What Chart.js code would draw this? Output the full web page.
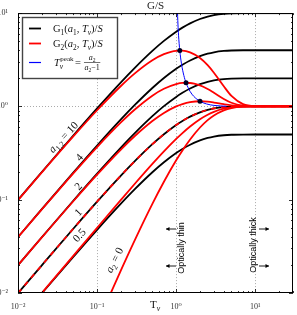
<!DOCTYPE html>
<html><head><meta charset="utf-8">
<script src="https://cdn.jsdelivr.net/npm/chart.js@4.4.1/dist/chart.umd.min.js"></script>
<style>html,body{margin:0;padding:0;background:#fff;}#wrap{width:297px;height:315px;}</style>
</head><body><div id="wrap"><canvas id="c" width="297" height="315"></canvas></div>
<script>
// ---- data ----
const T = [0.01,0.02,0.05,0.1,0.2,0.3,0.5,0.7,1,1.2,1.5,2,2.5,3,4,5,7,10,15,20,30];
const g1_10 = [0.0995,0.198,0.4877,0.9516,1.8127,2.5918,3.9347,5.0341,6.3212,6.9881,7.7687,8.6466,9.1792,9.5021,9.8168,9.9326,9.9909,9.9995,10,10,10];
const g1_4 = [0.0398,0.0792,0.1951,0.3807,0.7251,1.0367,1.5739,2.0137,2.5285,2.7952,3.1075,3.4587,3.6717,3.8009,3.9267,3.9730,3.9964,3.9998,4,4,4];
const g1_2 = [0.0199,0.0396,0.0975,0.1903,0.3625,0.5184,0.7869,1.0068,1.2642,1.3976,1.5537,1.7293,1.8358,1.9004,1.9634,1.9865,1.9982,1.9999,2,2,2];
const g1_1 = [0.00995,0.0198,0.0488,0.0952,0.1813,0.2592,0.3935,0.5034,0.6321,0.6988,0.7769,0.8647,0.9179,0.9502,0.9817,0.9933,0.9991,1,1,1,1];
const g1_05 = [0.004975,0.0099,0.0244,0.0476,0.0906,0.1296,0.1967,0.2517,0.3161,0.3494,0.3884,0.4323,0.4590,0.4751,0.4908,0.4966,0.4995,0.5,0.5,0.5,0.5];
const g2_10 = [0.0991,0.1962,0.4768,0.9095,1.655,2.2594,3.1229,3.6319,3.943,3.9517,3.7891,3.3007,2.7648,2.2945,1.6411,1.2965,1.0565,1.004,1,1,1];
const g2_4 = [0.0397,0.0786,0.1915,0.3666,0.6725,0.9259,1.3033,1.5462,1.7358,1.7831,1.781,1.6767,1.5336,1.3983,1.2015,1.0943,1.0182,1.0013,1,1,1];
const g2_2 = [0.01985,0.0394,0.0963,0.1856,0.345,0.4814,0.6967,0.851,1.0,1.0602,1.1116,1.1353,1.1231,1.0996,1.0549,1.027,1.0055,1.0004,1,1,1];
const g2_1 = [0.00995,0.0198,0.0488,0.0952,0.1813,0.2592,0.3935,0.5034,0.6321,0.6988,0.7769,0.8647,0.9179,0.9502,0.9817,0.9933,0.9991,1,1,1,1];
const g2_05 = [0.005,0.01,0.02499,0.04992,0.0994,0.1481,0.2418,0.3296,0.4482,0.5181,0.6095,0.7293,0.8153,0.8755,0.9451,0.9764,0.9959,0.9997,1,1,1];
const g2_0 = [0.0000497,0.000197,0.00121,0.00468,0.01752,0.03694,0.0902,0.1558,0.2642,0.3374,0.4422,0.594,0.7127,0.8009,0.9084,0.9596,0.9927,0.9995,1,1,1];
const peakT = [1.0345,1.0526,1.0714,1.1111,1.1667,1.25,1.3333,1.5,1.6667,2,2.4286,3,4.3333];
const peakG = [11.31,7.631,5.795,3.963,2.868,2.146,1.791,1.446,1.283,1.135,1.0617,1.0249,1.0039];
const dotT = [1.1111,1.3333,2];
const dotG = [3.963,1.791,1.135];
const tickVals = [0.01,0.1,1,10];
const tickLabels = ['10⁻²','10⁻¹','10⁰','10¹'];

const pts = (xs, ys) => xs.map((x,i)=>({x:x,y:ys[i]}));
const SERIF = '"Liberation Serif", "DejaVu Serif", serif';
const SANS = '"Liberation Sans", Arial, sans-serif';

function blk(d){return {data:pts(T,d),borderColor:'#000',borderWidth:1.8,pointRadius:0,cubicInterpolationMode:'monotone',order:3};}
function red(d,dash){return {data:pts(T,d),borderColor:'#ff0000',borderWidth:1.8,pointRadius:0,cubicInterpolationMode:'monotone',order:2,borderDash:dash||[]};}

const datasets = [
  {data:pts(dotT,dotG),showLine:false,pointRadius:2.5,pointBackgroundColor:'#000020',pointBorderWidth:0,order:0},
  {data:pts(peakT,peakG),borderColor:'#0000ff',borderWidth:1,pointRadius:0,cubicInterpolationMode:'monotone',order:1},
  red(g2_10),red(g2_4),red(g2_2),red(g2_1,[5,5]),red(g2_05),red(g2_0),
  blk(g1_10),blk(g1_4),blk(g1_2),blk(g1_1),blk(g1_05)
];

function tickCb(v){
  const i = tickVals.findIndex(t=>Math.abs(Math.log10(v)-Math.log10(t))<1e-6);
  return i>=0 ? tickLabels[i] : '';
}

function richWidth(ctx, segs, size){
  let w=0;
  for(const [t,f] of segs){
    const sz = (f.includes('b')||f.includes('p')) ? size*0.7 : size;
    ctx.font = (f.includes('i')?'italic ':'')+sz+'px '+SERIF;
    w += ctx.measureText(t).width;
  }
  return w;
}
function richDraw(ctx, x, y, segs, size){
  let cx=x;
  for(const [t,f] of segs){
    const sub=f.includes('b'), sup=f.includes('p');
    const sz = (sub||sup) ? size*0.7 : size;
    ctx.font = (f.includes('i')?'italic ':'')+sz+'px '+SERIF;
    const dy = sub ? size*0.25 : (sup ? -size*0.4 : 0);
    ctx.fillText(t, cx, y+dy);
    cx += ctx.measureText(t).width;
  }
  return cx;
}
function richRot(ctx, cx, cy, ang, segs, size){
  ctx.save();
  ctx.translate(cx,cy); ctx.rotate(ang*Math.PI/180);
  ctx.textAlign='left'; ctx.textBaseline='alphabetic';
  const w = richWidth(ctx,segs,size);
  richDraw(ctx,-w/2,size*0.35,segs,size);
  ctx.restore();
}
function arrow(ctx,x1,y,x2){
  ctx.beginPath(); ctx.moveTo(x1,y); ctx.lineTo(x2,y); ctx.stroke();
  const s = x2>x1?1:-1;
  ctx.beginPath(); ctx.moveTo(x2,y); ctx.lineTo(x2-s*3.5,y-2); ctx.lineTo(x2-s*3.5,y+2); ctx.closePath(); ctx.fill();
}

const decor = {
  id:'decor',
  beforeDatasetsDraw(chart){
    const {ctx, chartArea:a, scales:{x,y}} = chart;
    ctx.save();
    ctx.strokeStyle='#aaaaaa'; ctx.lineWidth=1; ctx.setLineDash([1,2]);
    for(const v of [0.1,1,10]){
      const px=Math.round(x.getPixelForValue(v))+0.5;
      ctx.beginPath(); ctx.moveTo(px,a.top); ctx.lineTo(px,a.bottom); ctx.stroke();
    }
    const py=Math.round(y.getPixelForValue(1))+0.5;
    ctx.beginPath(); ctx.moveTo(a.left,py); ctx.lineTo(a.right,py); ctx.stroke();
    ctx.restore();
  },
  afterDatasetsDraw(chart){
    const {ctx, chartArea:a, scales:{x,y}} = chart;
    ctx.save();
    ctx.strokeStyle='#000'; ctx.lineWidth=1;
    ctx.strokeRect(a.left+0.5,a.top+0.5,a.right-a.left-1,a.bottom-a.top-1);
    ctx.lineWidth=0.8;
    ctx.beginPath();
    for(let d=0.01; d<=10; d*=10){
      for(let k=1;k<=9;k++){
        const v=k*d; if(v>30.0001) break;
        const px=Math.round(x.getPixelForValue(v))+0.5, L=k===1?4:2;
        ctx.moveTo(px,a.bottom); ctx.lineTo(px,a.bottom-L);
        ctx.moveTo(px,a.top); ctx.lineTo(px,a.top+L);
      }
    }
    for(let d=0.01; d<=10; d*=10){
      for(let k=1;k<=9;k++){
        const v=k*d; if(v>10.0001) break;
        const py=Math.round(y.getPixelForValue(v))+0.5, L=k===1?4:2;
        ctx.moveTo(a.left,py); ctx.lineTo(a.left+L,py);
        ctx.moveTo(a.right,py); ctx.lineTo(a.right-L,py);
      }
    }
    ctx.stroke();

    ctx.fillStyle='#111';
    richRot(ctx,63,137,-47,[['a','i'],['1,2','b'],[' = 10','']],11);
    richRot(ctx,79,157,-47,[['4','']],11);
    richRot(ctx,78,186,-47,[['2','']],11);
    richRot(ctx,78,212,-47,[['1','']],11);
    richRot(ctx,79,235,-47,[['0.5','']],11);
    richRot(ctx,114,260,-63,[['a','i'],['2','b'],[' = 0','']],11);

    ctx.fillStyle='#000'; ctx.strokeStyle='#000'; ctx.lineWidth=0.9;
    ctx.font='9px '+SANS; ctx.textAlign='center'; ctx.textBaseline='middle';
    ctx.save(); ctx.translate(182,248); ctx.rotate(-Math.PI/2); ctx.fillText('Optically thin',0,0); ctx.restore();
    ctx.save(); ctx.translate(254,245); ctx.rotate(-Math.PI/2); ctx.fillText('Optically thick',0,0); ctx.restore();
    arrow(ctx,176,229,166); arrow(ctx,176,266,166);
    arrow(ctx,259,229,269); arrow(ctx,259,266,269);

    ctx.textAlign='left'; ctx.textBaseline='alphabetic'; ctx.fillStyle='#111';
    richDraw(ctx,150,308,[['T',''],['ν','ib']],11);

    const lx=22, ly=17, lw=95, lh=61;
    ctx.fillStyle='#fff'; ctx.fillRect(lx,ly,lw,lh);
    ctx.strokeStyle='#444'; ctx.lineWidth=1.4; ctx.strokeRect(lx+0.5,ly+0.5,lw,lh);
    const rows=[{y:28,c:'#000',w:1.8},{y:43,c:'#ff0000',w:1.8},{y:62,c:'#0000ff',w:1.2}];
    for(const r of rows){
      ctx.strokeStyle=r.c; ctx.lineWidth=r.w; ctx.beginPath(); ctx.moveTo(29,r.y+0.5); ctx.lineTo(41,r.y+0.5); ctx.stroke();
    }
    ctx.fillStyle='#111';
    richDraw(ctx,53,32,[['G',''],['1','b'],['(',''],['a','i'],['1','b'],[', ',''],['T','i'],['ν','ib'],[')/',''],['S','i']],10.5);
    richDraw(ctx,53,47,[['G',''],['2','b'],['(',''],['a','i'],['2','b'],[', ',''],['T','i'],['ν','ib'],[')/',''],['S','i']],10.5);
    ctx.font='italic 10.5px '+SERIF; ctx.fillText('T',54,66);
    let cx=54+ctx.measureText('T').width;
    ctx.font='italic 7.5px '+SERIF; ctx.fillText('ν',cx,68.5);
    ctx.font='7px '+SERIF; ctx.fillText('peak',cx+0.5,60.5);
    cx += ctx.measureText('peak').width+2;
    ctx.font='10.5px '+SERIF; ctx.fillText('=',cx,66); cx+=ctx.measureText('=').width+3;
    const num=[['a','i'],['2','b']], den=[['a','i'],['2','b'],['−1','']];
    const wn=richWidth(ctx,num,8), wd=richWidth(ctx,den,8);
    const fw=Math.max(wn,wd)+1;
    richDraw(ctx,cx+(fw-wn)/2,60,num,8);
    ctx.strokeStyle='#111'; ctx.lineWidth=0.6; ctx.beginPath(); ctx.moveTo(cx,62.5); ctx.lineTo(cx+fw,62.5); ctx.stroke();
    richDraw(ctx,cx+(fw-wd)/2,70,den,8);
    ctx.restore();
  }
};

new Chart(document.getElementById('c'),{
  type:'line',
  data:{datasets:datasets},
  options:{
    responsive:false, animation:false, events:[],
    layout:{padding:{left:0,right:1,top:0,bottom:0}},
    plugins:{
      legend:{display:false}, tooltip:{enabled:false},
      title:{display:true,text:'G/S',fullSize:false,color:'#222',font:{family:SERIF,size:11,weight:'normal',lineHeight:1.1},padding:{top:0,bottom:1}}
    },
    scales:{
      x:{type:'logarithmic',min:0.01,max:30,
         grid:{display:false},border:{display:false},
         ticks:{callback:tickCb,autoSkip:false,maxRotation:0,minRotation:0,color:'#333',padding:1,font:{family:SERIF,size:8}},
         afterFit(s){s.height=22;}},
      y:{type:'logarithmic',min:0.01,max:10,
         grid:{display:false},border:{display:false},
         ticks:{callback:tickCb,autoSkip:false,color:'#333',padding:2,font:{family:SERIF,size:8}},
         afterFit(s){s.width=18;}}
    }
  },
  plugins:[decor]
});
</script></body></html>
